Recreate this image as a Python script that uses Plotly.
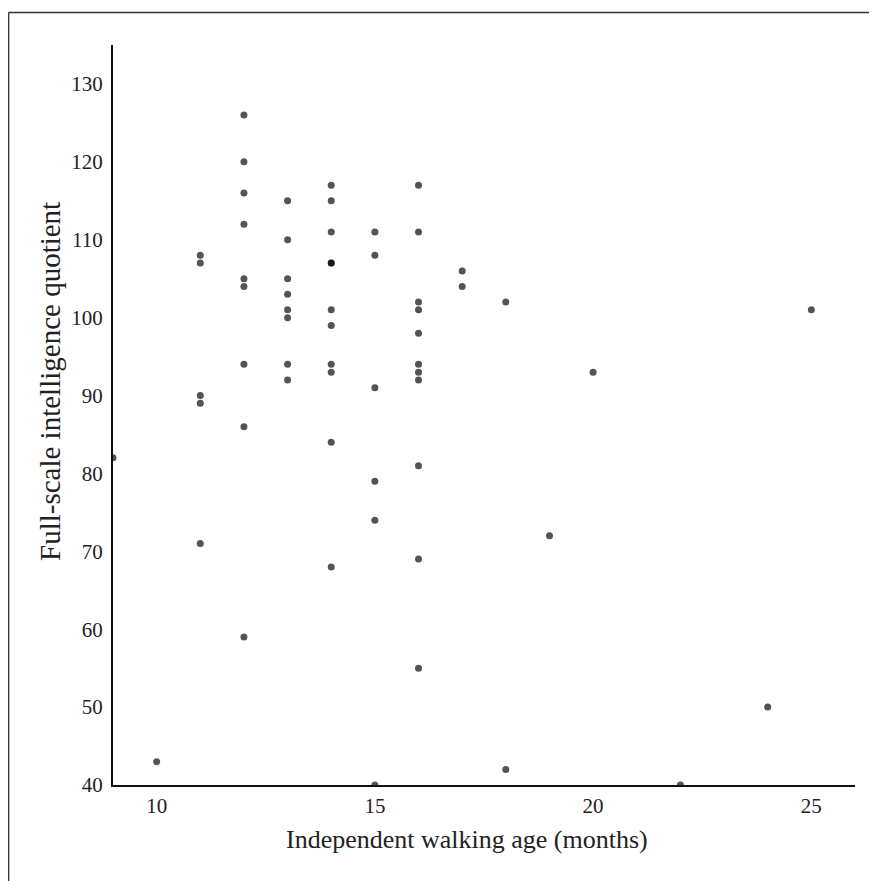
import plotly.graph_objects as go

walk_age = [9, 10,
            11, 11, 11, 11, 11,
            12, 12, 12, 12, 12, 12, 12, 12, 12,
            13, 13, 13, 13, 13, 13, 13, 13,
            14, 14, 14, 14, 14, 14, 14, 14, 14, 14, 14,
            15, 15, 15, 15, 15, 15,
            16, 16, 16, 16, 16, 16, 16, 16, 16, 16, 16,
            17, 17, 18, 18, 19, 20, 22, 24, 25]
fsiq = [82, 43,
        108, 107, 90, 89, 71,
        126, 120, 116, 112, 105, 104, 94, 86, 59,
        115, 110, 105, 103, 101, 100, 94, 92,
        117, 115, 111, 107, 107, 101, 99, 94, 93, 84, 68,
        111, 108, 91, 79, 74, 40,
        117, 111, 102, 101, 98, 94, 93, 92, 81, 69, 55,
        106, 104, 102, 42, 72, 93, 40, 50, 101]

x_ticks = [10, 15, 20, 25]
y_ticks = [40, 50, 60, 70, 80, 90, 100, 110, 120, 130]
x_title = "Independent walking age (months)"
y_title = "Full-scale intelligence quotient"

font = "Liberation Serif"

fig = go.Figure(go.Scatter(
    x=walk_age, y=fsiq, mode="markers",
    marker=dict(color="rgba(0,0,0,0.67)", size=7, line=dict(width=0)),
    cliponaxis=True, showlegend=False,
))

fig.update_layout(
    width=877, height=881,
    margin=dict(l=105, r=30, t=37, b=104),
    paper_bgcolor="white", plot_bgcolor="white",
    font=dict(family=font, color="#222", size=21),
    xaxis=dict(range=[9, 26], tickvals=x_ticks, showgrid=False, zeroline=False,
               showline=True, linecolor="#111", linewidth=2, ticks="",
               ticklabelstandoff=1),
    yaxis=dict(range=[40, 135], tickvals=y_ticks, showgrid=False, zeroline=False,
               showline=True, linecolor="#111", linewidth=2, ticks="",
               ticklabelstandoff=4),
    annotations=[
        dict(text=x_title, xref="paper", yref="paper", x=0.477, y=-0.0743,
             xanchor="center", yanchor="middle", showarrow=False,
             font=dict(size=26, family=font, color="#222")),
        dict(text=y_title, xref="paper", yref="paper", x=-0.0849, y=0.5446,
             xanchor="center", yanchor="middle", showarrow=False, textangle=-90,
             font=dict(size=29, family=font, color="#222")),
    ],
    shapes=[
        dict(type="line", xref="paper", yref="paper", x0=-0.1408, x1=1.1, y0=1.0439, y1=1.0439,
             line=dict(color="#333", width=1.6)),
        dict(type="line", xref="paper", yref="paper", x0=-0.1408, x1=-0.1408, y0=1.0439, y1=-0.2,
             line=dict(color="#333", width=1.6)),
    ],
)

fig.write_html("out.html")
